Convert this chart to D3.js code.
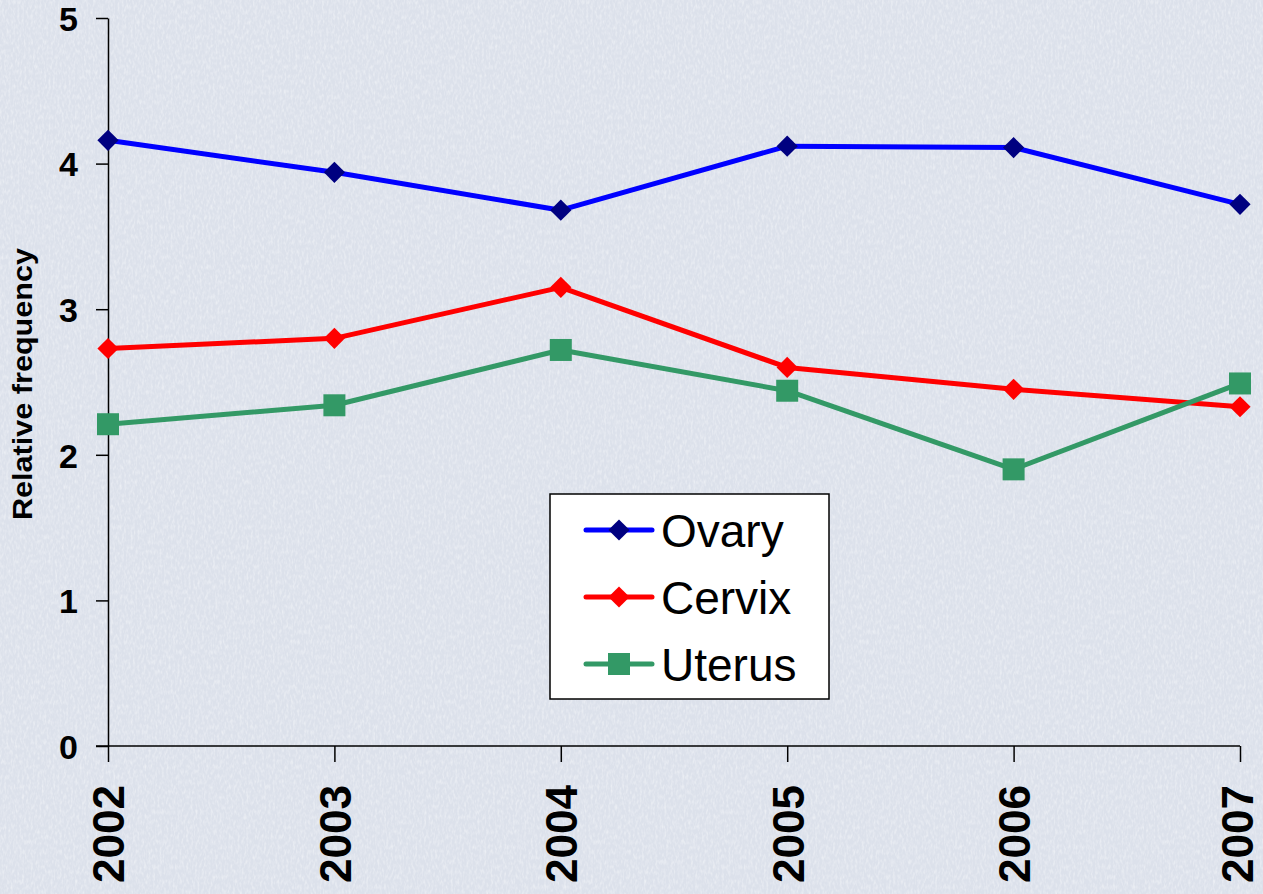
<!DOCTYPE html>
<html>
<head>
<meta charset="utf-8">
<script src="https://cdn.jsdelivr.net/npm/d3@7"></script>
<style>
  html, body { margin: 0; padding: 0; background: #e1e6ef; }
  svg { display: block; font-family: Arial, "Liberation Sans", sans-serif; }
  .axis path, .axis line { stroke: #000; stroke-width: 1.5px; }
  .axis text { font-weight: bold; fill: #000; }
</style>
</head>
<body>
<div id="chart"></div>
<script>
  'use strict';

  const years = [2002, 2003, 2004, 2005, 2006, 2007];
  const ovary = [4.16, 3.94, 3.68, 4.12, 4.11, 3.72];
  const cervix = [2.73, 2.80, 3.15, 2.60, 2.45, 2.33];
  const uterus = [2.21, 2.34, 2.72, 2.44, 1.90, 2.49];
  const yTicks = [0, 1, 2, 3, 4, 5];

  const series = [
    { name: "Ovary", values: ovary, line: "#0000ff", fill: "#000080", shape: "diamond" },
    { name: "Cervix", values: cervix, line: "#ff0000", fill: "#ff0000", shape: "diamond" },
    { name: "Uterus", values: uterus, line: "#339966", fill: "#339966", shape: "square" }
  ];

  const size = { width: 1263, height: 894 };
  const margin = { top: 18, right: 23, bottom: 148, left: 108 };
  const width = size.width - margin.left - margin.right;
  const height = size.height - margin.top - margin.bottom;

  const svg = d3.select("#chart").append("svg")
    .attr("width", size.width)
    .attr("height", size.height);

  // textured background, roughly like the slide's paper texture
  const defs = svg.append("defs");
  const filt = defs.append("filter").attr("id", "noise")
    .attr("x", 0).attr("y", 0).attr("width", "100%").attr("height", "100%");
  filt.append("feTurbulence")
    .attr("type", "fractalNoise")
    .attr("baseFrequency", "0.45 0.2")
    .attr("numOctaves", 2)
    .attr("seed", 4);
  filt.append("feColorMatrix")
    .attr("type", "matrix")
    .attr("values", "0 0 0 0 1  0 0 0 0 1  0 0 0 0 1  0 0 0 -1.6 0.95");

  svg.append("rect")
    .attr("width", size.width).attr("height", size.height)
    .attr("fill", "#dce1eb");
  svg.append("rect")
    .attr("width", size.width).attr("height", size.height)
    .attr("filter", "url(#noise)")
    .attr("opacity", 0.55);

  const x = d3.scalePoint().domain(years).range([0, width]);
  const y = d3.scaleLinear().domain([0, 5]).range([height, 0]);

  const graph = svg.append("g")
    .attr("transform", "translate(" + margin.left + "," + margin.top + ")");

  const yAxis = d3.axisLeft(y)
    .tickValues(yTicks)
    .tickSize(12)
    .tickSizeOuter(0)
    .tickPadding(18)
    .tickFormat(d3.format("d"));

  const yG = graph.append("g")
    .attr("class", "y axis")
    .call(yAxis);
  yG.selectAll("text")
    .attr("dy", "0.36em")
    .style("font-size", "34px");

  const xAxis = d3.axisBottom(x)
    .tickSize(16)
    .tickSizeOuter(0)
    .tickFormat(d3.format("d"));

  const xG = graph.append("g")
    .attr("class", "x axis")
    .attr("transform", "translate(0," + height + ")")
    .call(xAxis);
  // x axis line also runs left to the y tick
  xG.select(".domain").attr("d", "M-12,0H" + width);
  // last label sits a little left so it stays inside the frame
  xG.selectAll("text")
    .attr("transform", (d, i) => "rotate(-90)" + (i === years.length - 1 ? " translate(0,-3)" : ""))
    .attr("text-anchor", "end")
    .attr("x", -39)
    .attr("y", 0)
    .attr("dy", "0.36em")
    .style("font-size", "44px")
    .attr("textLength", 98)
    .attr("lengthAdjust", "spacingAndGlyphs");

  graph.append("text")
    .attr("transform", "rotate(-90)")
    .attr("x", -(384 - margin.top))
    .attr("y", 22 - margin.left)
    .attr("dy", "0.36em")
    .attr("text-anchor", "middle")
    .attr("textLength", 272)
    .attr("lengthAdjust", "spacingAndGlyphs")
    .style("font-weight", "bold")
    .style("font-size", "27px")
    .text("Relative frequency");

  const line = d3.line()
    .x((d, i) => x(years[i]))
    .y(d => y(d));

  const diamond = d3.symbol().type(d3.symbolSquare).size(15 * 15);
  const square = d3.symbol().type(d3.symbolSquare).size(22 * 22);

  function marker(sel, s) {
    sel.append("path")
      .attr("d", s.shape === "diamond" ? diamond() : square())
      .attr("fill", s.fill)
      .attr("transform", s.shape === "diamond" ? "rotate(45)" : null);
  }

  series.forEach(s => {
    graph.append("path")
      .datum(s.values)
      .attr("fill", "none")
      .attr("stroke", s.line)
      .attr("stroke-width", 5)
      .attr("stroke-linejoin", "round")
      .attr("d", line);

    graph.selectAll(null)
      .data(s.values)
      .enter().append("g")
      .attr("transform", (d, i) => "translate(" + x(years[i]) + "," + y(d) + ")")
      .each(function () { marker(d3.select(this), s); });
  });

  // legend
  const legend = svg.append("g").attr("transform", "translate(550,494)");
  legend.append("rect")
    .attr("width", 279).attr("height", 205)
    .attr("fill", "#fff")
    .attr("stroke", "#000")
    .attr("stroke-width", 1.5);

  series.forEach((s, i) => {
    const row = legend.append("g").attr("transform", "translate(0," + (36 + i * 67) + ")");
    row.append("line")
      .attr("x1", 36).attr("x2", 102)
      .attr("stroke", s.line)
      .attr("stroke-width", 5)
      .attr("stroke-linecap", "round");
    const m = row.append("g").attr("transform", "translate(69,0)");
    marker(m, s);
    row.append("text")
      .attr("x", 111)
      .attr("dy", "0.36em")
      .style("font-size", "46px")
      .text(s.name);
  });
</script>
</body>
</html>
